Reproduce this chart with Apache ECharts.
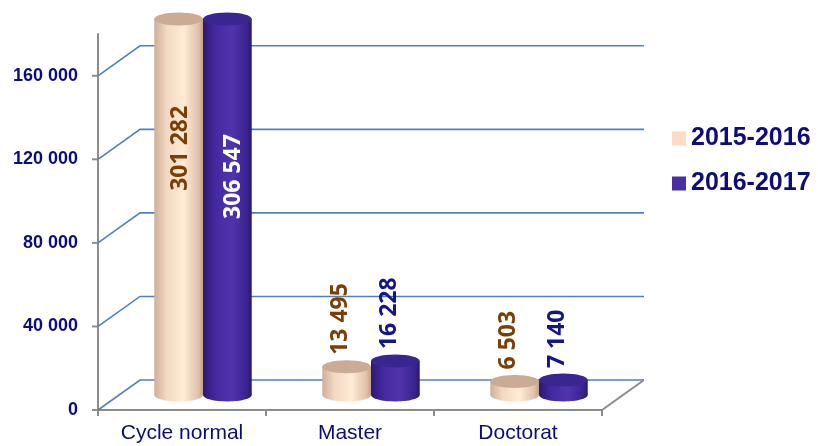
<!DOCTYPE html>
<html>
<head>
<meta charset="utf-8">
<script src="https://cdn.jsdelivr.net/npm/echarts@6/dist/echarts.min.js"></script>
<style>
  html, body { margin: 0; padding: 0; background: #fff; }
  #chart { width: 818px; height: 446px; }
</style>
</head>
<body>
<div id="chart"></div>
<script>
var categories = ['Cycle normal', 'Master', 'Doctorat'];
var seriesNames = ['2015-2016', '2016-2017'];
var values2015 = [301282, 13495, 6503];
var values2016 = [306547, 16228, 7140];
var yTicks = [0, 40000, 80000, 120000, 160000];
var yMax = 180000;

var navy = '#0c0c7c';
var gridBlue = '#4f81bd';
var axisGrey = '#8c8c8c';

// fake depth of the 3D box
var backDx = 42, backDy = -30;
var midDx = 21, midDy = -15;

function fmt(n) {
    return String(n).replace(/\B(?=(\d{3})+(?!\d))/g, ' ');
}

var looks = [
    {
        fill: new echarts.graphic.LinearGradient(0, 0, 1, 0, [
            {offset: 0, color: '#cfae98'},
            {offset: 0.25, color: '#f3d8c2'},
            {offset: 0.6, color: '#feebd6'},
            {offset: 0.9, color: '#e2c2ab'},
            {offset: 1, color: '#c6a38c'}
        ]),
        top: '#c9ab96',
        label: '#7a3e06',
        inside: '#7a3e06',
        insideAt: 0.344
    },
    {
        fill: new echarts.graphic.LinearGradient(0, 0, 1, 0, [
            {offset: 0, color: '#2c1a72'},
            {offset: 0.25, color: '#4329a0'},
            {offset: 0.6, color: '#5134ad'},
            {offset: 0.9, color: '#3a2390'},
            {offset: 1, color: '#28176a'}
        ]),
        top: '#3a2690',
        label: '#15158a',
        inside: '#ffffff',
        insideAt: 0.419
    }
];

function renderFrame(params, api) {
    var v = api.value(1);
    var cs = params.coordSys;
    var y = api.coord([0, v])[1];
    var x0 = cs.x, x1 = cs.x + cs.width;
    var lineStyle = {stroke: gridBlue, lineWidth: 1.6, fill: null};
    var children = [
        {type: 'polyline', shape: {points: [[x0, y], [x0 + backDx, y + backDy], [x1 + backDx, y + backDy]]}, style: lineStyle},
        {type: 'line', shape: {x1: x0 - 6, y1: y, x2: x0, y2: y}, style: {stroke: axisGrey, lineWidth: 2}}
    ];
    if (v === 0) {
        children.push({type: 'line', shape: {x1: x1, y1: y, x2: x1 + backDx, y2: y + backDy},
            style: {stroke: axisGrey, lineWidth: 2}});
    }
    return {type: 'group', children: children};
}

function makeBarRenderer(sIdx) {
    return function (params, api) {
        var idx = api.value(0);
        var v = api.value(1);
        var look = looks[sIdx];
        var base = api.coord([idx, 0]);
        var band = api.size([1, 0])[0];
        var barW = band * 0.29;
        var cx = base[0] + midDx + (sIdx - 0.5) * barW;
        var yBase = base[1] + midDy;
        var yTop = api.coord([idx, Math.min(v, yMax)])[1] + midDy;
        var ry = 6.5;
        var label;
        if (v > yMax) {
            label = {
                type: 'text', x: cx + 2 + sIdx * 4, y: yTop + (yBase - yTop) * look.insideAt, rotation: Math.PI / 2,
                style: {text: fmt(v), fill: look.inside, font: 'bold 23px "Open Sans"', align: 'center', verticalAlign: 'middle'}
            };
        } else {
            label = {
                type: 'text', x: cx - 6, y: yTop - 12, rotation: Math.PI / 2,
                style: {text: fmt(v), fill: look.label, font: 'bold 23px "Open Sans"', align: 'left', verticalAlign: 'middle'}
            };
        }
        return {
            type: 'group',
            children: [
                {type: 'ellipse', shape: {cx: cx, cy: yBase, rx: barW / 2, ry: ry}, style: {fill: look.fill}},
                {type: 'rect', shape: {x: cx - barW / 2, y: yTop, width: barW, height: yBase - yTop}, style: {fill: look.fill}},
                {type: 'ellipse', shape: {cx: cx, cy: yTop, rx: barW / 2, ry: ry}, style: {fill: look.top}},
                label
            ]
        };
    };
}

var chart = echarts.init(document.getElementById('chart'));

var option = {
    animation: false,
    grid: {left: 98, right: 216, top: 34, bottom: 36},
    legend: {
        orient: 'vertical',
        left: 667,
        top: 121,
        icon: 'rect',
        itemWidth: 14,
        itemHeight: 14,
        itemGap: 20,
        data: seriesNames,
        textStyle: {fontFamily: 'Liberation Sans', fontSize: 25, fontWeight: 'bold', color: navy}
    },
    xAxis: {
        type: 'category',
        data: categories,
        axisLine: {lineStyle: {color: axisGrey, width: 2}},
        axisTick: {show: true, length: 6, lineStyle: {color: axisGrey, width: 2}},
        axisLabel: {margin: 13, fontFamily: 'Liberation Sans', fontSize: 21, color: navy}
    },
    yAxis: {
        type: 'value',
        min: 0,
        max: yMax,
        interval: 40000,
        axisLine: {show: true, lineStyle: {color: axisGrey, width: 2}},
        axisTick: {show: false},
        splitLine: {show: false},
        axisLabel: {
            margin: 20, showMaxLabel: false,
            fontFamily: 'Liberation Sans', fontSize: 18, fontWeight: 'bold', color: navy,
            formatter: function (v) { return fmt(v); }
        }
    },
    series: [
        {
            type: 'custom', name: 'frame', z: 1, silent: true, clip: false,
            encode: {x: 0, y: 1},
            data: yTicks.map(function (v) { return [0, v]; }),
            renderItem: renderFrame
        },
        {
            type: 'custom', name: seriesNames[0], z: 2, clip: false,
            itemStyle: {color: '#fcdcc2'},
            encode: {x: 0, y: 1},
            data: values2015.map(function (v, i) { return [i, v]; }),
            renderItem: makeBarRenderer(0)
        },
        {
            type: 'custom', name: seriesNames[1], z: 3, clip: false,
            itemStyle: {color: '#4a2ea2'},
            encode: {x: 0, y: 1},
            data: values2016.map(function (v, i) { return [i, v]; }),
            renderItem: makeBarRenderer(1)
        }
    ]
};

chart.setOption(option);
</script>
</body>
</html>
